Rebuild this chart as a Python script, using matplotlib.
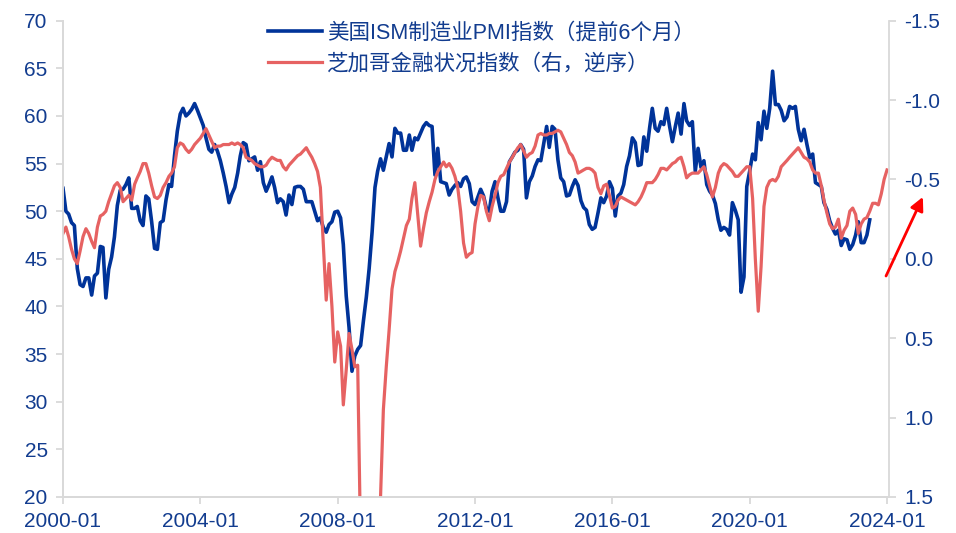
import pandas as pd
import matplotlib
matplotlib.use("Agg")
import matplotlib.pyplot as plt
import matplotlib.dates as mdates

plt.rcParams['font.family'] = ['Liberation Sans', 'Noto Sans CJK SC']
plt.rcParams['axes.unicode_minus'] = False

# ISM manufacturing PMI, plotted 6 months ahead (2000-01 .. 2023-07)
pmi_lead6 = [
    52.4, 50.0, 49.7, 48.8, 48.5, 44.0, 42.3, 42.1, 43.0, 43.0, 41.2, 43.2,
    43.5, 46.3, 46.2, 40.9, 43.9, 45.2, 47.3, 50.6, 52.2, 52.3, 52.8, 53.5,
    50.3, 50.3, 50.5, 49.0, 48.5, 51.6, 51.3, 48.9, 46.1, 46.0, 48.8, 49.0,
    51.2, 52.8, 52.6, 55.8, 58.4, 60.2, 60.8, 60.0, 60.3, 60.7, 61.3, 60.6,
    59.8, 59.0, 57.7, 56.5, 56.2, 57.0, 56.3, 55.3, 54.0, 52.6, 50.9, 51.8,
    52.5, 54.0, 55.8, 57.2, 57.0, 55.3, 55.5, 55.7, 54.3, 55.2, 53.0, 52.1,
    52.8, 53.6, 52.5, 50.9, 51.3, 51.0, 49.6, 51.7, 50.7, 52.5, 52.6, 52.6,
    52.3, 51.0, 51.0, 51.0, 50.0, 49.0, 49.3, 48.3, 47.8, 48.6, 48.9, 49.9,
    50.0, 49.3, 46.5, 41.1, 37.8, 33.2, 34.8, 35.5, 35.9, 38.5, 41.0, 44.0,
    47.8, 52.5, 54.2, 55.5, 54.3, 55.7, 57.1, 55.7, 58.7, 58.2, 58.2, 56.4,
    56.4, 58.0, 56.4, 57.7, 57.5, 58.2, 58.9, 59.3, 59.0, 58.9, 53.8, 56.6,
    53.1, 53.0, 52.9, 51.7, 52.3, 52.7, 53.0, 52.6, 53.4, 53.6, 52.9, 51.0,
    50.7, 51.5, 52.3, 51.6, 50.3, 50.0, 52.1, 53.1, 51.4, 50.0, 50.0, 51.0,
    55.2, 55.7, 56.2, 56.4, 57.0, 56.5, 51.4, 53.1, 53.7, 54.7, 55.4, 55.3,
    57.1, 58.9, 56.7, 58.9, 58.6, 55.4, 53.5, 53.1, 51.6, 51.7, 52.6, 53.3,
    52.7, 51.1, 50.4, 50.1, 48.6, 48.1, 48.3, 49.8, 51.4, 50.9, 51.6, 53.1,
    52.4, 49.5, 51.6, 51.9, 52.8, 54.7, 55.8, 57.7, 57.2, 54.8, 54.9, 57.8,
    56.3, 58.8, 60.8, 58.7, 58.4, 59.4, 59.1, 60.8, 58.9, 57.3, 58.9, 60.3,
    58.1, 61.3, 59.5, 59.0, 59.4, 54.2, 56.6, 54.6, 55.3, 52.8, 52.1, 51.7,
    50.8, 49.1, 48.0, 48.3, 48.1, 47.5, 50.9, 50.1, 49.1, 41.5, 43.1, 52.6,
    54.2, 56.0, 55.4, 59.3, 57.5, 60.5, 58.7, 60.8, 64.7, 61.2, 61.2, 60.6,
    59.5, 59.9, 61.0, 60.8, 61.0, 58.6, 57.4, 58.6, 57.0, 55.6, 56.0, 53.0,
    52.8, 52.6, 50.9, 50.2, 49.0, 48.2, 47.6, 48.0, 46.4, 47.1, 47.0, 46.0,
    46.5, 47.5, 48.9, 46.7, 46.7, 47.5, 49.1,
]

# Chicago Fed financial conditions index (2000-01 .. 2024-01), right axis inverted
nfci = [
    -0.16, -0.20, -0.14, -0.06, 0.00, 0.03, -0.05, -0.14, -0.19, -0.16, -0.11, -0.07,
    -0.20, -0.27, -0.28, -0.30, -0.36, -0.41, -0.46, -0.48, -0.45, -0.36, -0.38, -0.40,
    -0.37, -0.47, -0.51, -0.55, -0.60, -0.60, -0.54, -0.46, -0.39, -0.38, -0.40, -0.45,
    -0.48, -0.52, -0.54, -0.58, -0.70, -0.73, -0.72, -0.69, -0.67, -0.69, -0.72, -0.74,
    -0.76, -0.79, -0.82, -0.78, -0.74, -0.70, -0.71, -0.71, -0.72, -0.72, -0.72, -0.73,
    -0.72, -0.73, -0.72, -0.70, -0.64, -0.63, -0.62, -0.60, -0.59, -0.58, -0.58, -0.59,
    -0.62, -0.64, -0.63, -0.62, -0.62, -0.58, -0.56, -0.59, -0.61, -0.63, -0.65, -0.66,
    -0.68, -0.70, -0.67, -0.64, -0.60, -0.55, -0.45, -0.10, 0.26, 0.03, 0.30, 0.65,
    0.46, 0.55, 0.92, 0.70, 0.47, 0.57, 0.68, 0.67, 1.80, 2.60, 2.80, 2.60,
    2.30, 2.10, 1.90, 1.50, 0.95, 0.68, 0.45, 0.19, 0.08, 0.02, -0.05, -0.13,
    -0.21, -0.25, -0.38, -0.48, -0.28, -0.08, -0.19, -0.29, -0.36, -0.42, -0.50, -0.55,
    -0.58, -0.61, -0.58, -0.60, -0.57, -0.52, -0.45, -0.30, -0.10, -0.01, -0.03, -0.04,
    -0.22, -0.33, -0.40, -0.39, -0.30, -0.24, -0.33, -0.40, -0.48, -0.52, -0.53, -0.57,
    -0.61, -0.64, -0.67, -0.70, -0.72, -0.68, -0.64, -0.66, -0.67, -0.71, -0.78, -0.79,
    -0.78, -0.78, -0.79, -0.79, -0.80, -0.81, -0.80, -0.76, -0.72, -0.67, -0.65, -0.61,
    -0.54, -0.55, -0.56, -0.57, -0.57, -0.56, -0.54, -0.45, -0.41, -0.46, -0.47, -0.40,
    -0.32, -0.33, -0.37, -0.39, -0.38, -0.37, -0.36, -0.35, -0.34, -0.36, -0.39, -0.43,
    -0.48, -0.48, -0.48, -0.50, -0.53, -0.57, -0.57, -0.56, -0.58, -0.60, -0.61, -0.63,
    -0.64, -0.58, -0.51, -0.53, -0.54, -0.54, -0.54, -0.56, -0.58, -0.53, -0.46, -0.39,
    -0.45, -0.54, -0.58, -0.60, -0.59, -0.57, -0.55, -0.52, -0.52, -0.54, -0.56, -0.58,
    -0.58, -0.38, 0.00, 0.33, 0.05, -0.33, -0.45, -0.49, -0.50, -0.49, -0.52, -0.58,
    -0.60, -0.62, -0.64, -0.66, -0.68, -0.70, -0.67, -0.64, -0.63, -0.61, -0.56, -0.54,
    -0.54, -0.46, -0.37, -0.29, -0.22, -0.19, -0.20, -0.25, -0.13, -0.18, -0.21, -0.30,
    -0.32, -0.28, -0.16, -0.22, -0.25, -0.26, -0.30, -0.35, -0.35, -0.34, -0.41, -0.50,
    -0.56,
]

left_ticks = [20, 25, 30, 35, 40, 45, 50, 55, 60, 65, 70]
right_ticks = [-1.5, -1.0, -0.5, 0.0, 0.5, 1.0, 1.5]
tick_years = [2000, 2004, 2008, 2012, 2016, 2020, 2024]

label_pmi = '美国ISM制造业PMI指数（提前6个月）'
label_fci = '芝加哥金融状况指数（右，逆序）'

blue = '#003399'
red = '#E66262'
text_c = '#123C8F'
spine_c = '#D9D9D9'

pmi_dates = pd.date_range('2000-01-01', periods=len(pmi_lead6), freq='MS')
fci_dates = pd.date_range('2000-01-01', periods=len(nfci), freq='MS')

fig = plt.figure(figsize=(9.56, 5.33), dpi=100)
ax = fig.add_axes([63 / 956, 1 - 497 / 533, 826 / 956, 476.3 / 533])
ax2 = ax.twinx()

l1, = ax.plot(pmi_dates, pmi_lead6, color=blue, lw=2.6, solid_joinstyle='round')
l2, = ax2.plot(fci_dates, nfci, color=red, lw=2.3, solid_joinstyle='round')

ax.set_xlim(pd.Timestamp('2000-01-01'), pd.Timestamp('2024-01-22'))
ax.set_ylim(20, 70)
ax2.set_ylim(1.5, -1.5)

ax.set_xticks([pd.Timestamp(f'{y}-01-01') for y in tick_years])
ax.xaxis.set_major_formatter(mdates.DateFormatter('%Y-%m'))
ax.set_yticks(left_ticks)
ax2.set_yticks(right_ticks)
ax2.set_yticklabels([f'{v:.1f}' for v in right_ticks])

for a in (ax, ax2):
    for s in a.spines.values():
        s.set_color(spine_c)
        s.set_linewidth(1.3)
    a.spines['top'].set_visible(False)
    a.tick_params(colors=spine_c, labelcolor=text_c, labelsize=15,
                  length=5, width=1.3, pad=6)
ax.spines['right'].set_visible(False)

fig.legend([l1, l2], [label_pmi, label_fci], loc='upper left',
           bbox_to_anchor=(268 / 956, 1 - 23 / 533), frameon=False,
           fontsize=15.5, labelcolor=text_c, handlelength=2.5,
           handletextpad=0.25, labelspacing=0.45, borderpad=0, borderaxespad=0)

ax2.annotate('', xy=(1.041, 0.630), xytext=(0.9964, 0.464),
             xycoords='axes fraction', annotation_clip=False,
             arrowprops=dict(arrowstyle='-|>', color='red', lw=2,
                             mutation_scale=20, shrinkA=0, shrinkB=0))

fig.savefig('out.png', dpi=100)
